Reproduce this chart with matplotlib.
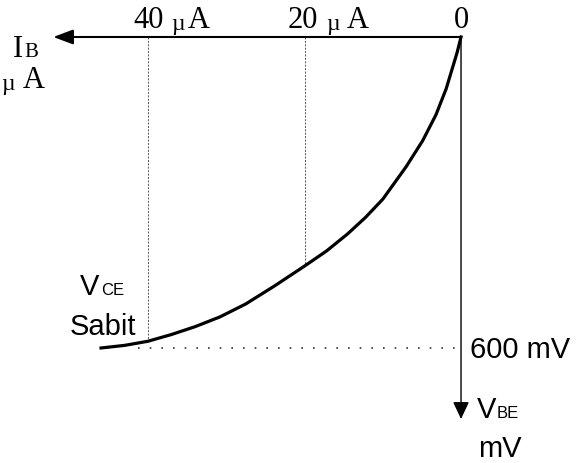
import matplotlib.pyplot as plt

# base current (uA) vs base-emitter voltage (mV)
ib = [0, 0.5, 1.1, 1.9, 3.2, 4.9, 7.0, 10.0, 12.2, 14.5, 17.2, 20,
      23.8, 27.5, 30.8, 34, 37, 40, 43, 46]
vbe = [0, 30, 60, 100, 150, 200, 250, 313, 348, 380, 413, 442,
       480, 515, 540, 559, 574, 587, 595, 600]

guide_ib = [20, 40]
guide_vbe = [442, 587]
vce_level = 600
dots_from = 41.3

ib_axis_end = 52.1
vbe_axis_end = 737

W, H = 577, 464

fig = plt.figure(figsize=(W / 100, H / 100), dpi=100)
ax = fig.add_axes([0, 0, 1, 1])
ax.set_xlim(58.91, -14.82)
ax.set_ylim(821.9, -73.3)
ax.axis('off')

# axes with arrows
ax.annotate('', xy=(ib_axis_end, 0), xytext=(0, 0),
            arrowprops=dict(arrowstyle='-|>,head_length=0.8,head_width=0.3',
                            mutation_scale=15, lw=1.5, color='black',
                            shrinkA=0, shrinkB=0))
ax.annotate('', xy=(0, vbe_axis_end), xytext=(0, 0),
            arrowprops=dict(arrowstyle='-|>,head_length=0.7,head_width=0.33',
                            mutation_scale=15, lw=1.0, color='black',
                            shrinkA=0, shrinkB=0))

# guide lines
for x, y in zip(guide_ib, guide_vbe):
    ax.plot([x, x], [0, y], color='#555555', lw=0.7, linestyle=(0, (2, 1.5)))
ax.plot([dots_from, 0], [vce_level, vce_level], color='#333333', lw=1.2,
        linestyle=(0, (1, 6)))

# curve
ax.plot(ib, vbe, color='black', lw=2.3, solid_joinstyle='round')


def label(x, y, s, size, family):
    fig.text(x / W, 1 - y / H, s, fontsize=size, family=family,
             ha='left', va='baseline')


serif = 'Liberation Serif'
sans = 'Liberation Sans'

label(133, 28, '40', 22, serif)
label(171, 30, 'µ', 17, serif)
label(188, 28, 'A', 22, serif)
label(288, 28, '20', 22, serif)
label(326, 30, 'µ', 17, serif)
label(347, 28, 'A', 22, serif)
fig.text(461 / W, 1 - 28 / H, '0', fontsize=22, family=serif,
         ha='center', va='baseline')

label(13, 57, 'I', 22, serif)
label(24, 57, 'B', 15, serif)
label(1, 90, 'µ', 17, serif)
label(23, 88, 'A', 22, serif)

label(80, 295, 'V', 21, sans)
label(101, 295, 'CE', 12, sans)
label(70, 335, 'Sabit', 21, sans)
label(470, 358, '600 mV', 21, sans)
label(477, 418, 'V', 21, sans)
label(497, 418, 'BE', 12, sans)
label(478, 457, 'mV', 21, sans)

fig.savefig('out.png', dpi=100)
